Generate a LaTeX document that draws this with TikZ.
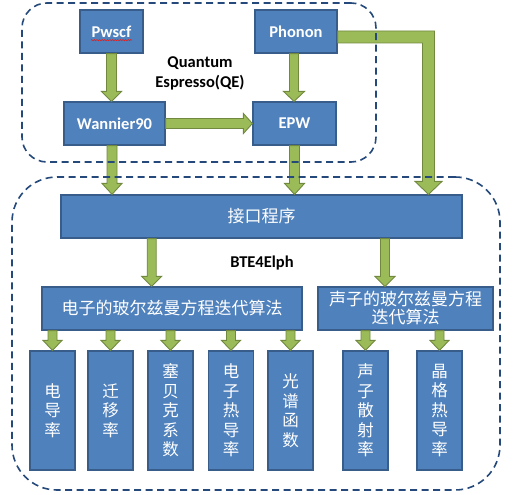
\documentclass[tikz,border=0pt]{standalone}
\usepackage{fontspec}
\setmainfont{Carlito}
\newfontfamily\cjk{Noto Sans CJK SC}
\usetikzlibrary{calc,decorations.pathmorphing}
\definecolor{boxfill}{HTML}{4F81BD}
\definecolor{boxline}{HTML}{385D8A}
\definecolor{arrfill}{HTML}{9BBB59}
\definecolor{arrline}{HTML}{71893F}
\definecolor{dashc}{HTML}{24497A}
\definecolor{spellred}{HTML}{E02020}
\begin{document}
\begin{tikzpicture}[x=1pt,y=-1pt,
  box/.style={draw=boxline, fill=boxfill, line width=1.2pt, text=white, inner sep=0pt, minimum height=43pt},
  latin/.style={font=\bfseries\fontsize{16.5}{20}\selectfont},
  zh/.style={font=\cjk\fontsize{17}{18}\selectfont},
  zhv/.style={font=\cjk\fontsize{16.5}{19.5}\selectfont, align=center},
  rbox/.style={box, zhv, minimum width=45pt, minimum height=119pt},
  lbl/.style={latin, text=black, inner sep=0pt, align=center},
  dashbox/.style={draw=dashc, line width=1.6pt, dash pattern=on 7pt off 4.5pt, inner sep=0pt},
  arr/.style={draw=arrline, fill=arrfill, line width=0.9pt, line join=miter},
  fatv/.style n args={3}{to path={let \p1=(\tikztostart),\p2=(\tikztotarget) in
     (\x1-#1,\y1) -- (\x1-#1,\y2+#3) -- (\x1-#2,\y2+#3) -- (\x1,\y2) -- (\x1+#2,\y2+#3) -- (\x1+#1,\y2+#3) -- (\x1+#1,\y1) -- cycle}},
  fatvt/.style n args={3}{to path={let \p1=(\tikztostart),\p2=(\tikztotarget) in
     (\x2-#1,\y1) -- (\x2-#1,\y2+#3) -- (\x2-#2,\y2+#3) -- (\x2,\y2) -- (\x2+#2,\y2+#3) -- (\x2+#1,\y2+#3) -- (\x2+#1,\y1) -- cycle}},
  fath/.style n args={3}{to path={let \p1=(\tikztostart),\p2=(\tikztotarget) in
     (\x1,\y1-#1) -- (\x2-#3,\y1-#1) -- (\x2-#3,\y1-#2) -- (\x2,\y1) -- (\x2-#3,\y1+#2) -- (\x2-#3,\y1+#1) -- (\x1,\y1+#1) -- cycle}}
]
\useasboundingbox (0,0) rectangle (518,494);

% boxes
\node[box, latin, minimum width=63pt] (Pwscf) at (111.5,31.5) {Pwscf};
\node[box, latin, minimum width=82pt] (Phonon) at (296,31.5) {Phonon};
\node[box, latin, minimum width=101pt] (Wannier) at (114.5,123.5) {Wannier90};
\node[box, latin, minimum width=83pt] (EPW) at (294.5,123.5) {EPW};
\node[box, zh, minimum width=401pt] (Iface) at (261.5,216.5) {接口程序};
\node[box, zh, minimum width=260pt] (Elec) at (172,308.5) {电子的玻尔兹曼方程迭代算法};
\node[box, zh, minimum width=175pt, align=center] (Phon) at (405.5,308.5) {声子的玻尔兹曼方程\\迭代算法};

\node[rbox] (r1) at (52.5,410.5) {电\\导\\率};
\node[rbox] (r2) at (110.5,410.5) {迁\\移\\率};
\node[rbox] (r3) at (170.5,410.5) {塞\\贝\\克\\系\\数};
\node[rbox] (r4) at (231,410.5) {电\\子\\热\\导\\率};
\node[rbox] (r5) at (290.5,410.5) {光\\谱\\函\\数};
\node[rbox] (r6) at (365.5,410.5) {声\\子\\散\\射\\率};
\node[rbox] (r7) at (439.5,410.5) {晶\\格\\热\\导\\率};

% labels
\node[lbl] (qe) at (200,73) {Quantum\\Espresso(QE)};
\node[lbl] (bte) at (262,263) {BTE4Elph};

% spell-check underline
\draw[spellred, line width=0.6pt, decorate, decoration={snake, amplitude=0.6pt, segment length=2.6pt}]
  ($(Pwscf.base)+(-20.5,3)$) -- ($(Pwscf.base)+(20.5,3)$);

% arrows
\draw[arr, fatv={5pt}{10pt}{10pt}] (Pwscf.south) to (Wannier.north);
\draw[arr, fatv={4.5pt}{10.5pt}{10pt}] ([xshift=-2pt]Phonon.south) to (EPW.north);
\draw[arr, fath={5pt}{10pt}{9pt}] (Wannier.east) to (EPW.west);
\draw[arr, fatv={5pt}{10pt}{11pt}] ([xshift=-2.5pt]Wannier.south) to (Iface.north);
\draw[arr, fatv={5pt}{10pt}{11pt}] (EPW.south) to (Iface.north);
\coordinate (bend) at (428.5,37);
\draw[arr] let \p1=(Phonon.east), \p2=(bend), \p3=(Iface.north) in
  (\x1,\y2+6pt) -- (\x2+6pt,\y2+6pt) -- (\x2+6pt,\y3+13pt) -- (\x2+13.5pt,\y3+13pt) -- (\x2,\y3)
  -- (\x2-13.5pt,\y3+13pt) -- (\x2-6pt,\y3+13pt) -- (\x2-6pt,\y2-6pt) -- (\x1,\y2-6pt) -- cycle;
\draw[arr, fatv={4.5pt}{10pt}{10pt}] ($(Iface.south west)!0.227!(Iface.south east)$) to (Elec.north);
\draw[arr, fatv={4.5pt}{10pt}{10pt}] ($(Iface.south west)!0.807!(Iface.south east)$) to (Phon.north);
\foreach \rr in {r1,r2,r3,r4,r5}
  \draw[arr, fatvt={4.5pt}{9.5pt}{10pt}] (Elec.south) to (\rr.north);
\foreach \rr in {r6,r7}
  \draw[arr, fatvt={4.5pt}{9.5pt}{10pt}] (Phon.south) to (\rr.north);

% dashed groups
\node[dashbox, rounded corners=25pt, minimum width=354pt, minimum height=159pt] (qebox) at (199,82.5) {};
\node[dashbox, rounded corners=45pt, minimum width=488pt, minimum height=313pt] (btebox) at (256,333.5) {};
\end{tikzpicture}
\end{document}
